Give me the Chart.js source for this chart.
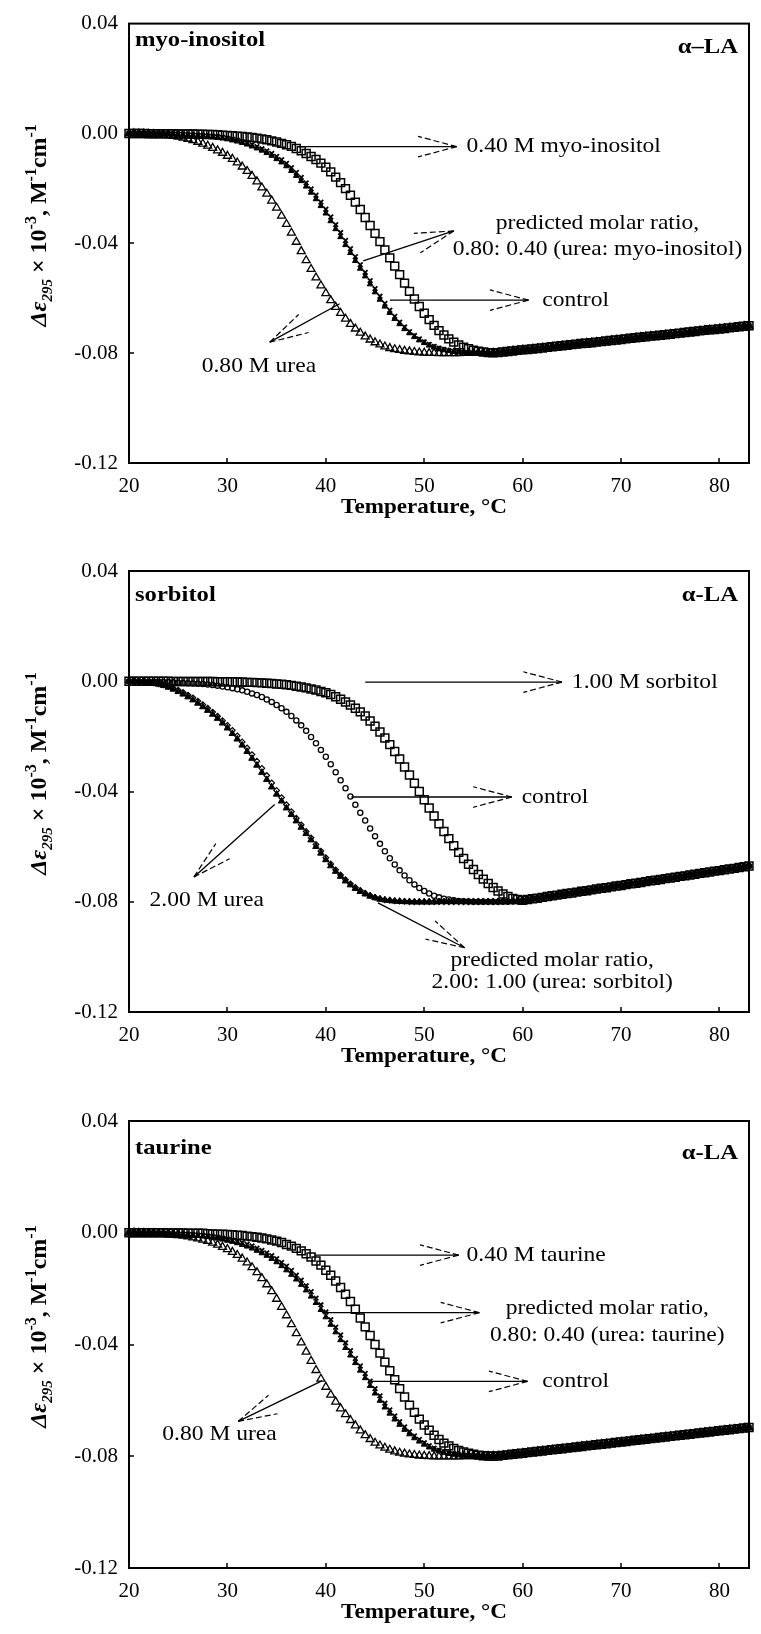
<!DOCTYPE html>
<html>
<head>
<meta charset="utf-8">
<script src="https://cdn.jsdelivr.net/npm/chart.js@4.4.1/dist/chart.umd.min.js"></script>
<style>
  html, body { margin: 0; padding: 0; background: #fff; }
  #wrap { position: relative; width: 761px; height: 1634px; }
  canvas { position: absolute; left: 0; }
</style>
</head>
<body>
<div id="wrap">
  <canvas id="panel1" width="761" height="545" style="top:0px"></canvas>
  <canvas id="panel2" width="761" height="545" style="top:545px"></canvas>
  <canvas id="panel3" width="761" height="544" style="top:1090px"></canvas>
</div>
<script>
// temperature, degC (readings every half degree)
const temps = [20, 20.5, 21, 21.5, 22, 22.5, 23, 23.5, 24, 24.5, 25, 25.5, 26, 26.5, 27, 27.5, 28, 28.5, 29, 29.5,
  30, 30.5, 31, 31.5, 32, 32.5, 33, 33.5, 34, 34.5, 35, 35.5, 36, 36.5, 37, 37.5, 38, 38.5, 39, 39.5,
  40, 40.5, 41, 41.5, 42, 42.5, 43, 43.5, 44, 44.5, 45, 45.5, 46, 46.5, 47, 47.5, 48, 48.5, 49, 49.5,
  50, 50.5, 51, 51.5, 52, 52.5, 53, 53.5, 54, 54.5, 55, 55.5, 56, 56.5, 57, 57.5, 58, 58.5, 59, 59.5,
  60, 60.5, 61, 61.5, 62, 62.5, 63, 63.5, 64, 64.5, 65, 65.5, 66, 66.5, 67, 67.5, 68, 68.5, 69, 69.5,
  70, 70.5, 71, 71.5, 72, 72.5, 73, 73.5, 74, 74.5, 75, 75.5, 76, 76.5, 77, 77.5, 78, 78.5, 79, 79.5,
  80, 80.5, 81, 81.5, 82, 82.5, 83];

// ---- myo-inositol panel: 20..57, then the shared unfolded baseline 57.5..83
const tail1 = [-0.0798, -0.0796, -0.0794, -0.0792, -0.0790, -0.0788, -0.0787, -0.0785, -0.0783, -0.0781,
  -0.0779, -0.0777, -0.0775, -0.0773, -0.0771, -0.0769, -0.0767, -0.0765, -0.0764, -0.0762,
  -0.0760, -0.0758, -0.0756, -0.0754, -0.0752, -0.0750, -0.0748, -0.0746, -0.0744, -0.0742,
  -0.0740, -0.0738, -0.0737, -0.0735, -0.0733, -0.0731, -0.0729, -0.0727, -0.0725, -0.0723,
  -0.0721, -0.0719, -0.0717, -0.0715, -0.0714, -0.0712, -0.0710, -0.0708, -0.0706, -0.0704,
  -0.0702, -0.0700];
const urea1 = [0.0000, 0.0000, -0.0001, -0.0001, -0.0002, -0.0003, -0.0004, -0.0005, -0.0007, -0.0009,
  -0.0012, -0.0016, -0.0020, -0.0025, -0.0031, -0.0038, -0.0045, -0.0053, -0.0062, -0.0071,
  -0.0082, -0.0093, -0.0106, -0.0121, -0.0137, -0.0155, -0.0175, -0.0197, -0.0220, -0.0245,
  -0.0271, -0.0300, -0.0330, -0.0362, -0.0395, -0.0429, -0.0462, -0.0494, -0.0525, -0.0554,
  -0.0582, -0.0608, -0.0632, -0.0654, -0.0675, -0.0694, -0.0711, -0.0726, -0.0740, -0.0751,
  -0.0761, -0.0769, -0.0776, -0.0782, -0.0786, -0.0789, -0.0792, -0.0794, -0.0796, -0.0798,
  -0.0799, -0.0800, -0.0800, -0.0801, -0.0801, -0.0801, -0.0801, -0.0801, -0.0800, -0.0800,
  -0.0800, -0.0800, -0.0800, -0.0800, -0.0799].concat(tail1);
const control1 = [0.0000, 0.0000, -0.0001, -0.0001, -0.0001, -0.0001, -0.0002, -0.0002, -0.0003, -0.0003,
  -0.0004, -0.0005, -0.0006, -0.0007, -0.0008, -0.0009, -0.0011, -0.0013, -0.0015, -0.0018,
  -0.0021, -0.0025, -0.0029, -0.0034, -0.0040, -0.0047, -0.0054, -0.0062, -0.0071, -0.0081,
  -0.0093, -0.0105, -0.0119, -0.0136, -0.0154, -0.0173, -0.0193, -0.0215, -0.0239, -0.0264,
  -0.0291, -0.0319, -0.0348, -0.0377, -0.0406, -0.0435, -0.0464, -0.0492, -0.0520, -0.0549,
  -0.0578, -0.0605, -0.0630, -0.0653, -0.0675, -0.0694, -0.0712, -0.0727, -0.0741, -0.0753,
  -0.0763, -0.0772, -0.0779, -0.0785, -0.0789, -0.0792, -0.0795, -0.0797, -0.0798, -0.0799,
  -0.0800, -0.0800, -0.0800, -0.0800, -0.0800].concat(tail1);
const predicted1 = [0.0000, 0.0000, 0.0000, 0.0000, -0.0001, -0.0001, -0.0001, -0.0001, -0.0002, -0.0002,
  -0.0003, -0.0004, -0.0005, -0.0006, -0.0007, -0.0008, -0.0010, -0.0011, -0.0013, -0.0015,
  -0.0018, -0.0021, -0.0025, -0.0030, -0.0035, -0.0041, -0.0048, -0.0056, -0.0064, -0.0073,
  -0.0084, -0.0096, -0.0109, -0.0125, -0.0142, -0.0160, -0.0180, -0.0202, -0.0225, -0.0250,
  -0.0276, -0.0304, -0.0332, -0.0361, -0.0390, -0.0420, -0.0449, -0.0478, -0.0506, -0.0536,
  -0.0565, -0.0593, -0.0619, -0.0644, -0.0666, -0.0687, -0.0705, -0.0722, -0.0736, -0.0748,
  -0.0759, -0.0768, -0.0776, -0.0782, -0.0787, -0.0791, -0.0794, -0.0796, -0.0798, -0.0799,
  -0.0800, -0.0800, -0.0800, -0.0800, -0.0800].concat(tail1);
const inositol1 = [0.0000, 0.0000, 0.0000, 0.0000, -0.0001, -0.0001, -0.0001, -0.0001, -0.0001, -0.0001,
  -0.0002, -0.0002, -0.0002, -0.0002, -0.0003, -0.0003, -0.0004, -0.0004, -0.0005, -0.0006,
  -0.0007, -0.0008, -0.0010, -0.0011, -0.0013, -0.0015, -0.0017, -0.0020, -0.0023, -0.0027,
  -0.0031, -0.0036, -0.0041, -0.0047, -0.0055, -0.0063, -0.0073, -0.0084, -0.0095, -0.0108,
  -0.0123, -0.0140, -0.0159, -0.0179, -0.0201, -0.0225, -0.0250, -0.0277, -0.0306, -0.0335,
  -0.0364, -0.0394, -0.0424, -0.0453, -0.0483, -0.0514, -0.0545, -0.0575, -0.0603, -0.0630,
  -0.0655, -0.0678, -0.0699, -0.0718, -0.0734, -0.0748, -0.0760, -0.0770, -0.0778, -0.0784,
  -0.0789, -0.0793, -0.0796, -0.0798, -0.0799].concat(tail1);

// ---- sorbitol panel: 20..60, then baseline 60.5..83
const tail2 = [-0.0792, -0.0789, -0.0787, -0.0784, -0.0781, -0.0778, -0.0776, -0.0773, -0.0770, -0.0768,
  -0.0765, -0.0762, -0.0760, -0.0757, -0.0754, -0.0751, -0.0749, -0.0746, -0.0743, -0.0741,
  -0.0738, -0.0735, -0.0733, -0.0730, -0.0727, -0.0724, -0.0722, -0.0719, -0.0716, -0.0714,
  -0.0711, -0.0708, -0.0706, -0.0703, -0.0700, -0.0697, -0.0695, -0.0692, -0.0689, -0.0687,
  -0.0684, -0.0681, -0.0679, -0.0676, -0.0673, -0.0670];
const urea2 = [0.0000, -0.0001, -0.0002, -0.0003, -0.0005, -0.0008, -0.0011, -0.0016, -0.0022, -0.0029,
  -0.0038, -0.0047, -0.0057, -0.0068, -0.0080, -0.0093, -0.0106, -0.0120, -0.0135, -0.0152,
  -0.0170, -0.0190, -0.0210, -0.0232, -0.0255, -0.0280, -0.0305, -0.0331, -0.0357, -0.0384,
  -0.0410, -0.0435, -0.0460, -0.0484, -0.0507, -0.0530, -0.0553, -0.0576, -0.0600, -0.0624,
  -0.0648, -0.0670, -0.0690, -0.0708, -0.0725, -0.0739, -0.0752, -0.0763, -0.0772, -0.0780,
  -0.0786, -0.0791, -0.0794, -0.0796, -0.0798, -0.0799, -0.0800, -0.0800, -0.0801, -0.0801,
  -0.0801, -0.0801, -0.0801, -0.0800, -0.0800, -0.0800, -0.0800, -0.0800, -0.0800, -0.0800,
  -0.0800, -0.0800, -0.0800, -0.0800, -0.0800, -0.0800, -0.0800, -0.0800, -0.0799, -0.0797,
  -0.0795].concat(tail2);
const predicted2 = [0.0000, 0.0000, -0.0001, -0.0002, -0.0004, -0.0006, -0.0009, -0.0013, -0.0018, -0.0025,
  -0.0032, -0.0040, -0.0050, -0.0060, -0.0072, -0.0085, -0.0098, -0.0112, -0.0127, -0.0143,
  -0.0160, -0.0178, -0.0198, -0.0220, -0.0242, -0.0266, -0.0290, -0.0316, -0.0342, -0.0369,
  -0.0396, -0.0422, -0.0448, -0.0473, -0.0497, -0.0521, -0.0545, -0.0568, -0.0592, -0.0616,
  -0.0640, -0.0663, -0.0684, -0.0703, -0.0720, -0.0735, -0.0748, -0.0759, -0.0769, -0.0777,
  -0.0784, -0.0789, -0.0793, -0.0795, -0.0797, -0.0798, -0.0799, -0.0800, -0.0800, -0.0800,
  -0.0800, -0.0800, -0.0800, -0.0800, -0.0800, -0.0800, -0.0800, -0.0800, -0.0800, -0.0800,
  -0.0800, -0.0800, -0.0800, -0.0800, -0.0800, -0.0800, -0.0799, -0.0799, -0.0798, -0.0797,
  -0.0795].concat(tail2);
const control2 = [0.0000, 0.0000, -0.0001, -0.0001, -0.0002, -0.0002, -0.0002, -0.0003, -0.0003, -0.0004,
  -0.0005, -0.0006, -0.0007, -0.0008, -0.0009, -0.0010, -0.0012, -0.0014, -0.0016, -0.0019,
  -0.0022, -0.0025, -0.0029, -0.0033, -0.0038, -0.0044, -0.0050, -0.0057, -0.0066, -0.0075,
  -0.0086, -0.0098, -0.0111, -0.0126, -0.0142, -0.0160, -0.0180, -0.0202, -0.0225, -0.0249,
  -0.0274, -0.0301, -0.0330, -0.0359, -0.0388, -0.0418, -0.0448, -0.0477, -0.0505, -0.0534,
  -0.0562, -0.0590, -0.0617, -0.0642, -0.0665, -0.0686, -0.0705, -0.0722, -0.0737, -0.0750,
  -0.0761, -0.0770, -0.0778, -0.0784, -0.0789, -0.0792, -0.0795, -0.0797, -0.0798, -0.0799,
  -0.0800, -0.0800, -0.0800, -0.0800, -0.0800, -0.0800, -0.0800, -0.0800, -0.0799, -0.0798,
  -0.0796].concat(tail2);
const sorbitol2 = [0.0000, 0.0000, 0.0000, 0.0000, 0.0000, 0.0000, 0.0000, 0.0000, 0.0000, -0.0001,
  -0.0001, -0.0001, -0.0001, -0.0001, -0.0001, -0.0001, -0.0001, -0.0001, -0.0002, -0.0002,
  -0.0002, -0.0002, -0.0003, -0.0003, -0.0004, -0.0004, -0.0005, -0.0006, -0.0007, -0.0008,
  -0.0010, -0.0011, -0.0013, -0.0015, -0.0018, -0.0021, -0.0024, -0.0028, -0.0032, -0.0037,
  -0.0042, -0.0048, -0.0056, -0.0065, -0.0075, -0.0086, -0.0098, -0.0111, -0.0126, -0.0144,
  -0.0163, -0.0184, -0.0206, -0.0230, -0.0255, -0.0282, -0.0311, -0.0340, -0.0370, -0.0400,
  -0.0430, -0.0460, -0.0489, -0.0517, -0.0545, -0.0571, -0.0597, -0.0621, -0.0643, -0.0664,
  -0.0683, -0.0701, -0.0718, -0.0734, -0.0748, -0.0761, -0.0772, -0.0781, -0.0788, -0.0792,
  -0.0795].concat(tail2);

// ---- taurine panel: 20..57, then baseline 57.5..83
const tail3 = [-0.0799, -0.0797, -0.0795, -0.0793, -0.0791, -0.0789, -0.0787, -0.0785, -0.0783, -0.0781,
  -0.0779, -0.0777, -0.0775, -0.0773, -0.0771, -0.0769, -0.0767, -0.0765, -0.0763, -0.0761,
  -0.0759, -0.0757, -0.0755, -0.0753, -0.0751, -0.0749, -0.0747, -0.0745, -0.0743, -0.0741,
  -0.0739, -0.0737, -0.0735, -0.0733, -0.0731, -0.0729, -0.0727, -0.0725, -0.0723, -0.0721,
  -0.0719, -0.0717, -0.0715, -0.0713, -0.0711, -0.0709, -0.0707, -0.0705, -0.0703, -0.0701,
  -0.0699, -0.0697];
const urea3 = [0.0000, 0.0000, -0.0001, -0.0001, -0.0002, -0.0002, -0.0003, -0.0004, -0.0005, -0.0007,
  -0.0009, -0.0011, -0.0014, -0.0017, -0.0021, -0.0025, -0.0030, -0.0036, -0.0043, -0.0051,
  -0.0059, -0.0069, -0.0080, -0.0093, -0.0107, -0.0124, -0.0142, -0.0163, -0.0185, -0.0210,
  -0.0237, -0.0266, -0.0296, -0.0328, -0.0360, -0.0393, -0.0426, -0.0459, -0.0492, -0.0523,
  -0.0552, -0.0580, -0.0605, -0.0629, -0.0650, -0.0671, -0.0690, -0.0708, -0.0725, -0.0739,
  -0.0752, -0.0762, -0.0770, -0.0777, -0.0783, -0.0788, -0.0791, -0.0794, -0.0796, -0.0798,
  -0.0799, -0.0800, -0.0801, -0.0801, -0.0801, -0.0801, -0.0801, -0.0801, -0.0800, -0.0800,
  -0.0800, -0.0800, -0.0800, -0.0800, -0.0799].concat(tail3);
const control3 = [0.0000, 0.0000, -0.0001, -0.0001, -0.0002, -0.0002, -0.0003, -0.0003, -0.0004, -0.0005,
  -0.0006, -0.0007, -0.0008, -0.0009, -0.0011, -0.0013, -0.0015, -0.0017, -0.0020, -0.0024,
  -0.0028, -0.0032, -0.0037, -0.0043, -0.0049, -0.0056, -0.0064, -0.0073, -0.0082, -0.0093,
  -0.0105, -0.0119, -0.0134, -0.0150, -0.0167, -0.0186, -0.0206, -0.0228, -0.0251, -0.0276,
  -0.0302, -0.0329, -0.0356, -0.0384, -0.0412, -0.0439, -0.0466, -0.0493, -0.0520, -0.0548,
  -0.0575, -0.0601, -0.0625, -0.0647, -0.0668, -0.0687, -0.0705, -0.0721, -0.0735, -0.0747,
  -0.0758, -0.0768, -0.0776, -0.0782, -0.0787, -0.0791, -0.0794, -0.0796, -0.0798, -0.0799,
  -0.0800, -0.0800, -0.0800, -0.0800, -0.0800].concat(tail3);
const predicted3 = [0.0000, 0.0000, -0.0001, -0.0001, -0.0001, -0.0001, -0.0002, -0.0002, -0.0003, -0.0004,
  -0.0005, -0.0005, -0.0006, -0.0007, -0.0009, -0.0010, -0.0012, -0.0014, -0.0017, -0.0020,
  -0.0023, -0.0027, -0.0031, -0.0036, -0.0041, -0.0047, -0.0055, -0.0063, -0.0072, -0.0082,
  -0.0093, -0.0106, -0.0120, -0.0135, -0.0152, -0.0170, -0.0190, -0.0211, -0.0234, -0.0258,
  -0.0284, -0.0311, -0.0338, -0.0366, -0.0394, -0.0422, -0.0450, -0.0477, -0.0504, -0.0531,
  -0.0558, -0.0584, -0.0610, -0.0634, -0.0656, -0.0676, -0.0695, -0.0712, -0.0727, -0.0740,
  -0.0752, -0.0762, -0.0771, -0.0778, -0.0784, -0.0788, -0.0792, -0.0795, -0.0797, -0.0798,
  -0.0799, -0.0800, -0.0800, -0.0800, -0.0800].concat(tail3);
const taurine3 = [0.0000, 0.0000, 0.0000, 0.0000, 0.0000, 0.0000, 0.0000, 0.0000, -0.0001, -0.0001,
  -0.0001, -0.0001, -0.0002, -0.0002, -0.0002, -0.0002, -0.0003, -0.0004, -0.0005, -0.0005,
  -0.0006, -0.0007, -0.0009, -0.0010, -0.0012, -0.0014, -0.0016, -0.0019, -0.0022, -0.0026,
  -0.0030, -0.0035, -0.0042, -0.0048, -0.0056, -0.0065, -0.0075, -0.0087, -0.0101, -0.0116,
  -0.0134, -0.0152, -0.0173, -0.0196, -0.0220, -0.0246, -0.0274, -0.0305, -0.0337, -0.0368,
  -0.0400, -0.0431, -0.0463, -0.0494, -0.0526, -0.0558, -0.0588, -0.0617, -0.0643, -0.0667,
  -0.0688, -0.0707, -0.0725, -0.0740, -0.0753, -0.0763, -0.0772, -0.0779, -0.0785, -0.0789,
  -0.0793, -0.0796, -0.0798, -0.0799, -0.0800].concat(tail3);

const xTicks = { min: 20, max: 83, step: 10 };
const yTicks = { min: -0.12, max: 0.04, step: 0.04 };

// callouts, in data units: [temperature, value]
const notes1 = {
  arrows: [
    { from: [37.3, -0.0048], to: [53.3, -0.0048] },
    { from: [43.8, -0.0464], to: [53.0, -0.0355] },
    { from: [46.5, -0.0607], to: [60.6, -0.0607] },
    { from: [41.4, -0.0620], to: [34.3, -0.0760] }
  ],
  labels: [
    { text: "0.40 M myo-inositol", at: [54.3, -0.0048], align: "left" },
    { text: "predicted molar ratio,", at: [67.6, -0.0326], align: "center" },
    { text: "0.80: 0.40 (urea: myo-inositol)", at: [67.6, -0.0423], align: "center" },
    { text: "control", at: [62.0, -0.0607], align: "left" },
    { text: "0.80 M urea", at: [33.2, -0.0846], align: "center" }
  ]
};
const notes2 = {
  arrows: [
    { from: [44.0, -0.0003], to: [64.0, -0.0003] },
    { from: [42.6, -0.0420], to: [58.9, -0.0420] },
    { from: [34.8, -0.0447], to: [26.6, -0.0710] },
    { from: [45.3, -0.0804], to: [54.1, -0.0967] }
  ],
  labels: [
    { text: "1.00 M sorbitol", at: [65.0, -0.0003], align: "left" },
    { text: "control", at: [59.9, -0.0420], align: "left" },
    { text: "2.00 M urea", at: [27.9, -0.0794], align: "center" },
    { text: "predicted molar ratio,", at: [63.0, -0.1011], align: "center" },
    { text: "2.00: 1.00 (urea: sorbitol)", at: [63.0, -0.1091], align: "center" }
  ]
};
const notes3 = {
  arrows: [
    { from: [38.8, -0.0080], to: [53.5, -0.0080] },
    { from: [39.6, -0.0286], to: [55.6, -0.0286] },
    { from: [44.3, -0.0532], to: [60.5, -0.0532] },
    { from: [39.6, -0.0530], to: [31.1, -0.0675] }
  ],
  labels: [
    { text: "0.40 M taurine", at: [54.3, -0.0080], align: "left" },
    { text: "predicted molar ratio,", at: [68.6, -0.0269], align: "center" },
    { text: "0.80: 0.40 (urea: taurine)", at: [68.6, -0.0366], align: "center" },
    { text: "control", at: [62.0, -0.0532], align: "left" },
    { text: "0.80 M urea", at: [29.2, -0.0721], align: "center" }
  ]
};

const SERIF = '"Liberation Serif", "Times New Roman", serif';

function drawText(ctx, s, x, y, font, align, sx) {
  ctx.save();
  ctx.font = font;
  ctx.textBaseline = "middle";
  ctx.textAlign = "left";
  ctx.fillStyle = "#000";
  const w = ctx.measureText(s).width * sx;
  const x0 = align === "center" ? x - w / 2 : align === "right" ? x - w : x;
  ctx.translate(x0, y);
  ctx.scale(sx, 1);
  ctx.fillText(s, 0, 0);
  ctx.restore();
}

function drawArrow(ctx, x1, y1, x2, y2) {
  ctx.save();
  ctx.strokeStyle = "#000";
  ctx.lineWidth = 1.3;
  ctx.beginPath();
  ctx.moveTo(x1, y1);
  ctx.lineTo(x2, y2);
  ctx.stroke();
  // open arrow head, two long thin barbs
  const back = Math.atan2(y1 - y2, x1 - x2);
  ctx.setLineDash([6, 3]);
  ctx.lineWidth = 1.2;
  [-1, 1].forEach(function (s) {
    const b = back + s * 0.26;
    ctx.beginPath();
    ctx.moveTo(x2, y2);
    ctx.lineTo(x2 + 40 * Math.cos(b), y2 + 40 * Math.sin(b));
    ctx.stroke();
  });
  ctx.restore();
}

function drawYTitle(ctx, cx, cy) {
  const big = "bold 24px " + SERIF;
  const sup = "bold 16px " + SERIF;
  const segs = [
    { t: "\u0394\u03b5", f: "italic " + big, dy: 0 },
    { t: "295", f: "italic bold 15px " + SERIF, dy: 6 },
    { t: " \u00d7 10", f: big, dy: 0 },
    { t: "-3", f: sup, dy: -10 },
    { t: ", M", f: big, dy: 0 },
    { t: "-1", f: sup, dy: -10 },
    { t: "cm", f: big, dy: 0 },
    { t: "-1", f: sup, dy: -10 }
  ];
  ctx.save();
  ctx.translate(cx, cy);
  ctx.rotate(-Math.PI / 2);
  ctx.fillStyle = "#000";
  ctx.textBaseline = "alphabetic";
  ctx.textAlign = "left";
  let total = 0;
  segs.forEach(function (s) { ctx.font = s.f; s.w = ctx.measureText(s.t).width; total += s.w; });
  let x = -total / 2;
  segs.forEach(function (s) { ctx.font = s.f; ctx.fillText(s.t, x, 8 + s.dy); x += s.w; });
  ctx.restore();
}

function decorPlugin(cfg) {
  return {
    id: "decor",
    afterDatasetsDraw(chart) {
      const ctx = chart.ctx;
      const a = chart.chartArea;
      const xs = chart.scales.x;
      const ys = chart.scales.y;
      ctx.save();
      ctx.strokeStyle = "#000";
      ctx.lineWidth = 2;
      ctx.strokeRect(a.left, a.top, a.right - a.left, a.bottom - a.top);

      // inward tick marks
      ctx.lineWidth = 1.5;
      xs.ticks.forEach(function (t) {
        if (t.value <= xs.min || t.value >= xs.max) return;
        const px = Math.round(xs.getPixelForValue(t.value));
        ctx.beginPath(); ctx.moveTo(px, a.bottom); ctx.lineTo(px, a.bottom - 5); ctx.stroke();
      });
      ys.ticks.forEach(function (t) {
        if (t.value <= ys.min + 1e-9 || t.value >= ys.max - 1e-9) return;
        const py = Math.round(ys.getPixelForValue(t.value));
        ctx.beginPath(); ctx.moveTo(a.left, py); ctx.lineTo(a.left + 5, py); ctx.stroke();
      });
      ctx.restore();

      cfg.notes.arrows.forEach(function (ar) {
        drawArrow(ctx,
          xs.getPixelForValue(ar.from[0]), ys.getPixelForValue(ar.from[1]),
          xs.getPixelForValue(ar.to[0]), ys.getPixelForValue(ar.to[1]));
      });
      cfg.notes.labels.forEach(function (lb) {
        drawText(ctx, lb.text, xs.getPixelForValue(lb.at[0]), ys.getPixelForValue(lb.at[1]),
          "22px " + SERIF, lb.align, 1.07);
      });

      drawText(ctx, cfg.name, a.left + 6, a.top + cfg.nameDy, "bold 22px " + SERIF, "left", 1.12);
      drawText(ctx, cfg.la, a.right - 11, a.top + cfg.laDy, "bold 22px " + SERIF, "right", 1.12);
      drawText(ctx, "Temperature, \u00b0C", 424, a.bottom + 45, "bold 21px " + SERIF, "center", 1.1);
      drawYTitle(ctx, 38, (a.top + a.bottom) / 2 - 18);
    }
  };
}

function makePanel(id, cfg) {
  const canvas = document.getElementById(id);
  const H = canvas.height;
  return new Chart(canvas, {
    type: "scatter",
    data: {
      datasets: cfg.series.map(function (s) {
        return {
          label: s.label,
          data: temps.map(function (t, i) { return { x: t, y: s.values[i] }; }),
          showLine: false,
          pointStyle: s.style,
          pointRadius: s.r,
          pointHoverRadius: s.r,
          pointBorderColor: "#000",
          pointBackgroundColor: s.fill ? "#000" : "rgba(0,0,0,0)",
          pointBorderWidth: s.bw,
          clip: false
        };
      })
    },
    options: {
      responsive: false,
      animation: false,
      devicePixelRatio: 1,
      events: [],
      layout: { padding: { top: cfg.top, right: 12, bottom: 0, left: 0 } },
      plugins: { legend: { display: false }, tooltip: { enabled: false } },
      scales: {
        x: {
          type: "linear",
          min: xTicks.min,
          max: xTicks.max,
          grid: { display: false, drawTicks: false },
          border: { display: false },
          ticks: {
            stepSize: xTicks.step,
            includeBounds: false,
            padding: 11,
            maxRotation: 0,
            color: "#000",
            font: { family: SERIF, size: 21 }
          },
          afterFit: function (sc) { sc.height = H - cfg.bottom; }
        },
        y: {
          type: "linear",
          min: yTicks.min,
          max: yTicks.max,
          grid: { display: false, drawTicks: false },
          border: { display: false },
          ticks: {
            stepSize: yTicks.step,
            padding: 11,
            color: "#000",
            font: { family: SERIF, size: 21 },
            callback: function (v) { return Math.abs(v) < 1e-9 ? "0.00" : Number(v).toFixed(2); }
          },
          afterFit: function (sc) { sc.width = 129; }
        }
      }
    },
    plugins: [decorPlugin(cfg)]
  });
}

makePanel("panel1", {
  top: 18, bottom: 463, name: "myo-inositol", nameDy: 17, la: "\u03b1\u2013LA", laDy: 24,
  notes: notes1,
  series: [
    { label: "0.80 M urea", values: urea1, style: "triangle", r: 4.6, bw: 1.3, fill: false },
    { label: "control", values: control1, style: "triangle", r: 3.3, bw: 1, fill: true },
    { label: "predicted", values: predicted1, style: "crossRot", r: 3.3, bw: 1.8, fill: false },
    { label: "0.40 M myo-inositol", values: inositol1, style: "rect", r: 5.6, bw: 1.5, fill: false }
  ]
});

makePanel("panel2", {
  top: 26, bottom: 467, name: "sorbitol", nameDy: 24, la: "\u03b1-LA", laDy: 24,
  notes: notes2,
  series: [
    { label: "2.00 M urea", values: urea2, style: "triangle", r: 3.8, bw: 1, fill: true },
    { label: "predicted", values: predicted2, style: "rectRot", r: 2.8, bw: 1.2, fill: false },
    { label: "control", values: control2, style: "circle", r: 2.6, bw: 1.3, fill: false },
    { label: "1.00 M sorbitol", values: sorbitol2, style: "rect", r: 5.6, bw: 1.5, fill: false }
  ]
});

makePanel("panel3", {
  top: 31, bottom: 478, name: "taurine", nameDy: 27, la: "\u03b1-LA", laDy: 32,
  notes: notes3,
  series: [
    { label: "0.80 M urea", values: urea3, style: "triangle", r: 4.6, bw: 1.3, fill: false },
    { label: "control", values: control3, style: "triangle", r: 3.3, bw: 1, fill: true },
    { label: "predicted", values: predicted3, style: "crossRot", r: 3.3, bw: 1.8, fill: false },
    { label: "0.40 M taurine", values: taurine3, style: "rect", r: 5.6, bw: 1.5, fill: false }
  ]
});
</script>
</body>
</html>
